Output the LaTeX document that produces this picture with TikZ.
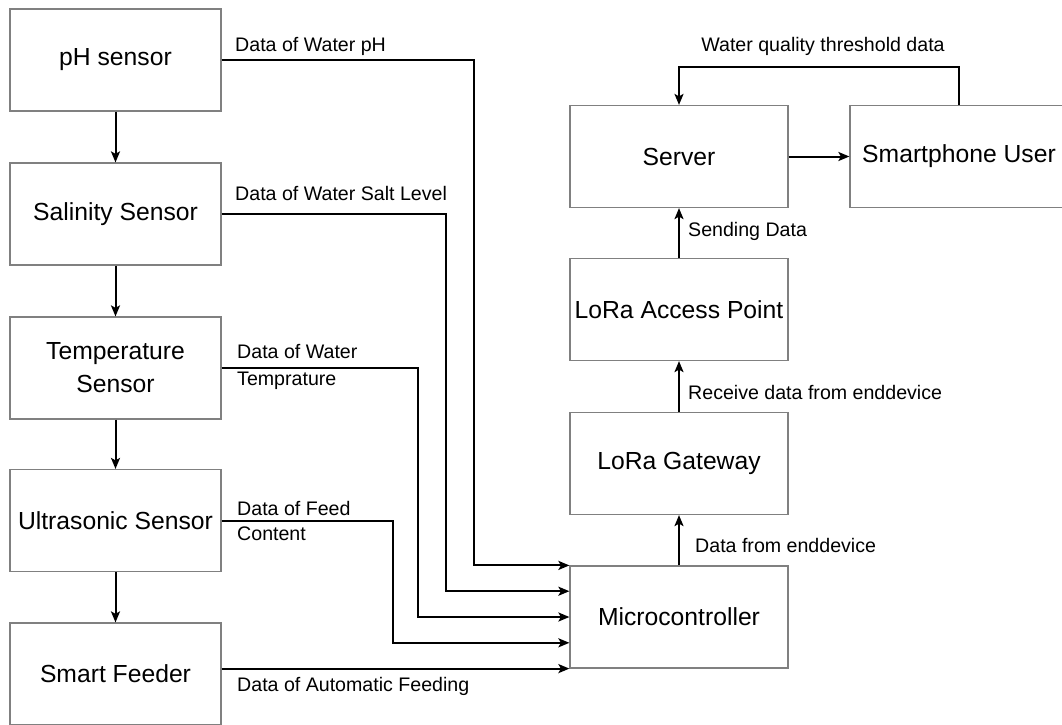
\documentclass[tikz,border=0pt]{standalone}
\usepackage{fontspec}
\setmainfont{Liberation Sans}
\usetikzlibrary{arrows.meta,calc}
\tikzset{
  blk/.style={draw=black!50, line width=1.2pt, minimum width=211pt, minimum height=102pt,
    inner sep=0pt, align=center, font=\fontsize{24.7}{33}\selectfont},
  wblk/.style={blk, minimum width=218pt},
  lbl/.style={inner sep=0pt, align=left, font=\fontsize{19.6}{26}\selectfont},
  arr/.style={draw=black, line width=2pt, -{Stealth[length=11pt,width=9pt,inset=2.5pt]}}
}
\begin{document}
\begin{tikzpicture}[x=1pt,y=-1pt]
\useasboundingbox (0,0) rectangle (1062,724);
\clip (0,0) rectangle (1062,724);
% left column
\node[blk] (ph) at (115.5,60) {pH sensor};
\node[blk] (sal) at (115.5,214) {Salinity Sensor};
\node[blk] (temp) at (115.5,368) {Temperature\\Sensor};
\node[blk] (ultra) at (115.5,520.5) {Ultrasonic Sensor};
\node[blk] (feed) at (115.5,674) {Smart Feeder};
% right column
\node[wblk] (micro) at (679,617) {Microcontroller};
\node[wblk] (gw) at (679,463.5) {LoRa Gateway};
\node[wblk] (ap) at (679,309.5) {LoRa Access Point};
\node[wblk] (server) at (679,156.5) {Server};
\node[wblk] (phone) at (959,156.5) {Smartphone User};
% arrow end points on micro's left side
\coordinate (m1) at ($(micro.north west)!0!(micro.south west)$);
\coordinate (m2) at ($(micro.north west)!0.25!(micro.south west)$);
\coordinate (m3) at ($(micro.north west)!0.5!(micro.south west)$);
\coordinate (m4) at ($(micro.north west)!0.75!(micro.south west)$);
\coordinate (m5) at ($(micro.north west)!1!(micro.south west)$);
% vertical arrows left
\draw[arr] (ph.south) -- (sal.north);
\draw[arr] (sal.south) -- (temp.north);
\draw[arr] (temp.south) -- (ultra.north);
\draw[arr] (ultra.south) -- (feed.north);
% sensor connectors
\draw[arr] (ph.east) -| ([xshift=-95pt]m1) -- (m1);
\draw[arr] (sal.east) -| ([xshift=-123pt]m2) -- (m2);
\draw[arr] (temp.east) -| ([xshift=-151pt]m3) -- (m3);
\draw[arr] (ultra.east) -| ([xshift=-176pt]m4) -- (m4);
\draw[arr] (m5 -| feed.east) -- (m5);
% right column arrows
\draw[arr] (micro.north) -- (gw.south);
\draw[arr] (gw.north) -- (ap.south);
\draw[arr] (ap.north) -- (server.south);
\draw[arr] (server.east) -- (phone.west);
\draw[arr] (phone.north) -- ++(0,-38) -| (server.north);
% labels
\node[lbl, anchor=west] (l1) at (235,46) {Data of Water pH};
\node[lbl, anchor=west] (l2) at (235,193) {Data of Water Salt Level};
\node[lbl, anchor=west, font=\fontsize{19.6}{27}\selectfont] (l3) at (237,366.5) {Data of Water\\Temprature};
\node[lbl, anchor=west, font=\fontsize{19.6}{25}\selectfont] (l4) at (237,520.5) {Data of Feed\\Content};
\node[lbl, anchor=west] (l5) at (237,686) {Data of Automatic Feeding};
\node[lbl] (l6) at (823,46) {Water quality threshold data};
\node[lbl, anchor=west] (l7) at (688,231) {Sending Data};
\node[lbl, anchor=west] (l8) at (688,392) {Receive data from enddevice};
\node[lbl, anchor=west] (l9) at (695,545) {Data from enddevice};
\end{tikzpicture}
\end{document}
